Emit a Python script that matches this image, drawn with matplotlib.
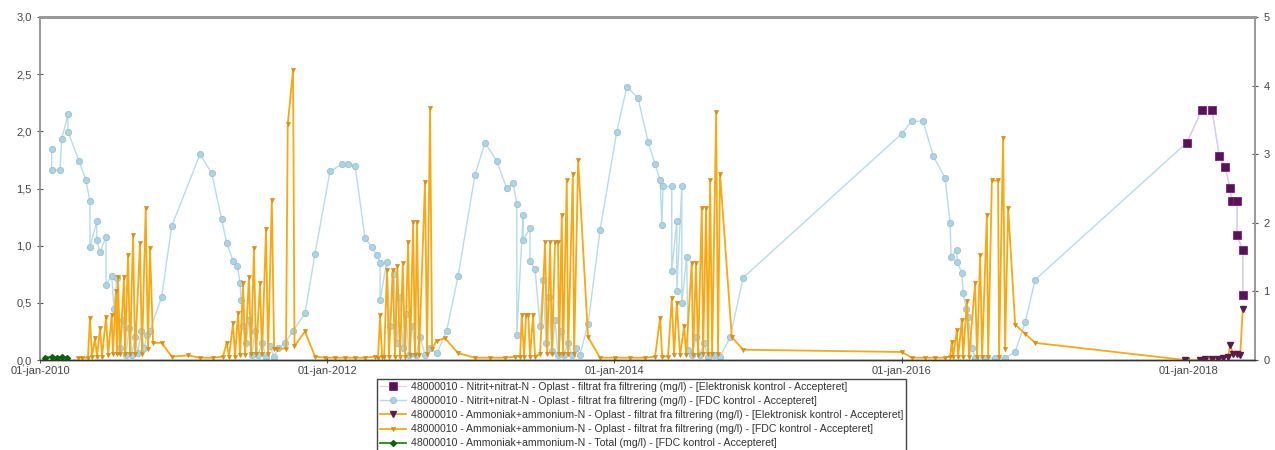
import matplotlib.pyplot as plt

plt.rcParams['font.family'] = ['Liberation Sans', 'DejaVu Sans']

# tick labels
x_ticks = [2010, 2012, 2014, 2016, 2018]
x_labels = ['01-jan-2010', '01-jan-2012', '01-jan-2014', '01-jan-2016', '01-jan-2018']
left_ticks = [0, 0.5, 1.0, 1.5, 2.0, 2.5, 3.0]
left_labels = ['0,0', '0,5', '1,0', '1,5', '2,0', '2,5', '3,0']
right_ticks = [0, 1, 2, 3, 4, 5]

labels = [
    '48000010 - Nitrit+nitrat-N - Oplast - filtrat fra filtrering (mg/l) - [Elektronisk kontrol - Accepteret]',
    '48000010 - Nitrit+nitrat-N - Oplast - filtrat fra filtrering (mg/l) - [FDC kontrol - Accepteret]',
    '48000010 - Ammoniak+ammonium-N - Oplast - filtrat fra filtrering (mg/l) - [Elektronisk kontrol - Accepteret]',
    '48000010 - Ammoniak+ammonium-N - Oplast - filtrat fra filtrering (mg/l) - [FDC kontrol - Accepteret]',
    '48000010 - Ammoniak+ammonium-N - Total (mg/l) - [FDC kontrol - Accepteret]',
]

# nitrit+nitrat, elektronisk kontrol (right axis)
no3_el_t = [2017.986, 2018.091, 2018.160, 2018.211, 2018.252, 2018.287, 2018.299,
            2018.334, 2018.336, 2018.375, 2018.375]
no3_el_v = [3.17, 3.65, 3.65, 2.98, 2.82, 2.50, 2.32, 2.32, 1.82, 1.60, 0.95]

# nitrit+nitrat, FDC kontrol (right axis)
no3_fdc_t = [2010.081, 2010.081, 2010.139, 2010.151, 2010.195, 2010.195, 2010.272, 2010.318,
             2010.348, 2010.348, 2010.395, 2010.395, 2010.418, 2010.460, 2010.460, 2010.499,
             2010.515, 2010.536, 2010.557, 2010.578, 2010.599, 2010.620, 2010.641, 2010.662,
             2010.682, 2010.703, 2010.724, 2010.745, 2010.766, 2010.847, 2010.917, 2011.114,
             2011.196, 2011.265, 2011.300, 2011.344, 2011.375, 2011.393, 2011.400, 2011.414,
             2011.435, 2011.455, 2011.476, 2011.497, 2011.518, 2011.546, 2011.574, 2011.602,
             2011.630, 2011.657, 2011.706, 2011.762, 2011.845, 2011.915, 2012.019, 2012.101,
             2012.145, 2012.194, 2012.263, 2012.310, 2012.345, 2012.368, 2012.368, 2012.414,
             2012.437, 2012.465, 2012.486, 2012.507, 2012.528, 2012.549, 2012.570, 2012.591,
             2012.618, 2012.646, 2012.681, 2012.716, 2012.763, 2012.832, 2012.911, 2013.029,
             2013.099, 2013.180, 2013.250, 2013.294, 2013.320, 2013.320, 2013.364, 2013.364,
             2013.412, 2013.412, 2013.447, 2013.482, 2013.503, 2013.524, 2013.545, 2013.565,
             2013.586, 2013.607, 2013.628, 2013.649, 2013.677, 2013.705, 2013.733, 2013.760,
             2013.816, 2013.900, 2014.016, 2014.086, 2014.164, 2014.234, 2014.283, 2014.318,
             2014.330, 2014.338, 2014.399, 2014.399, 2014.434, 2014.434, 2014.469, 2014.469,
             2014.503, 2014.512, 2014.540, 2014.568, 2014.596, 2014.624, 2014.652, 2014.694,
             2014.735, 2014.805, 2014.896, 2016.001, 2016.070, 2016.149, 2016.219, 2016.302,
             2016.337, 2016.344, 2016.384, 2016.386, 2016.419, 2016.428, 2016.449, 2016.463,
             2016.490, 2016.511, 2016.581, 2016.650, 2016.720, 2016.790, 2016.860, 2016.929,
             2017.986, 2018.091, 2018.160, 2018.211, 2018.252, 2018.287, 2018.299, 2018.334,
             2018.336, 2018.375, 2018.375]
no3_fdc_v = [3.07, 2.77, 2.77, 3.22, 3.58, 3.33, 2.90, 2.63,
             2.32, 1.65, 2.02, 1.75, 1.57, 1.80, 1.10, 1.23,
             0.75, 1.20, 0.17, 0.58, 0.07, 0.47, 0.08, 0.33,
             0.10, 0.42, 0.17, 0.37, 0.43, 0.92, 1.95, 3.00,
             2.72, 2.05, 1.70, 1.45, 1.37, 1.12, 0.87, 0.50,
             0.25, 0.58, 0.08, 0.42, 0.07, 0.25, 0.05, 0.20,
             0.05, 0.17, 0.25, 0.42, 0.68, 1.55, 2.75, 2.85,
             2.85, 2.83, 1.78, 1.65, 1.53, 1.42, 0.87, 1.43,
             0.50, 1.25, 0.25, 0.92, 0.17, 0.67, 0.08, 0.50,
             0.07, 0.33, 0.08, 0.17, 0.10, 0.43, 1.22, 2.70,
             3.17, 2.90, 2.50, 2.58, 2.28, 0.37, 2.12, 1.75,
             1.92, 1.45, 1.32, 0.50, 1.17, 0.25, 0.92, 0.13,
             0.58, 0.08, 0.42, 0.08, 0.25, 0.07, 0.17, 0.08,
             0.52, 1.90, 3.33, 3.98, 3.82, 3.18, 2.85, 2.62,
             1.97, 2.53, 2.53, 1.30, 2.03, 1.00, 2.53, 0.83,
             1.50, 0.15, 0.08, 0.33, 0.08, 0.25, 0.05, 0.07,
             0.05, 0.33, 1.20, 3.30, 3.48, 3.48, 2.98, 2.65,
             2.00, 1.50, 1.60, 1.43, 1.27, 0.97, 0.75, 0.63,
             0.17, 0.03, 0.03, 0.03, 0.03, 0.12, 0.55, 1.17,
             3.17, 3.65, 3.65, 2.98, 2.82, 2.50, 2.32, 2.32,
             1.82, 1.60, 0.95]

# ammoniak+ammonium, elektronisk kontrol (left axis)
nh4_el_t = [2017.974, 2018.078, 2018.113, 2018.162, 2018.203, 2018.238, 2018.273, 2018.287,
            2018.308, 2018.336, 2018.357, 2018.375]
nh4_el_v = [0.00, 0.00, 0.01, 0.01, 0.01, 0.02, 0.03, 0.13, 0.05, 0.05, 0.04, 0.45]

# ammoniak+ammonium, FDC kontrol (left axis)
nh4_fdc_t = [2010.265, 2010.292, 2010.334, 2010.348, 2010.362, 2010.383, 2010.397, 2010.418,
             2010.432, 2010.460, 2010.474, 2010.499, 2010.508, 2010.529, 2010.536, 2010.543,
             2010.557, 2010.585, 2010.592, 2010.613, 2010.627, 2010.648, 2010.662, 2010.696,
             2010.710, 2010.736, 2010.752, 2010.766, 2010.787, 2010.847, 2010.917, 2011.031,
             2011.114, 2011.205, 2011.274, 2011.300, 2011.316, 2011.344, 2011.358, 2011.379,
             2011.393, 2011.414, 2011.428, 2011.455, 2011.469, 2011.490, 2011.504, 2011.532,
             2011.546, 2011.574, 2011.588, 2011.614, 2011.630, 2011.648, 2011.713, 2011.725,
             2011.762, 2011.772, 2011.845, 2011.915, 2011.985, 2012.054, 2012.124, 2012.194,
             2012.263, 2012.333, 2012.354, 2012.368, 2012.382, 2012.396, 2012.416, 2012.430,
             2012.456, 2012.472, 2012.488, 2012.507, 2012.526, 2012.542, 2012.563, 2012.577,
             2012.598, 2012.611, 2012.625, 2012.639, 2012.681, 2012.695, 2012.716, 2012.730,
             2012.763, 2012.820, 2012.911, 2013.029, 2013.134, 2013.238, 2013.308, 2013.343,
             2013.354, 2013.371, 2013.384, 2013.400, 2013.412, 2013.433, 2013.447, 2013.482,
             2013.517, 2013.531, 2013.552, 2013.565, 2013.586, 2013.607, 2013.614, 2013.633,
             2013.642, 2013.668, 2013.677, 2013.710, 2013.719, 2013.747, 2013.816, 2013.900,
             2014.004, 2014.109, 2014.213, 2014.283, 2014.318, 2014.332, 2014.373, 2014.399,
             2014.415, 2014.434, 2014.457, 2014.485, 2014.499, 2014.538, 2014.547, 2014.568,
             2014.582, 2014.608, 2014.617, 2014.638, 2014.652, 2014.666, 2014.680, 2014.708,
             2014.721, 2014.735, 2014.817, 2014.896, 2016.001, 2016.070, 2016.163, 2016.233,
             2016.302, 2016.337, 2016.349, 2016.358, 2016.384, 2016.393, 2016.419, 2016.428,
             2016.454, 2016.469, 2016.511, 2016.525, 2016.546, 2016.560, 2016.593, 2016.602,
             2016.628, 2016.671, 2016.678, 2016.706, 2016.720, 2016.741, 2016.790, 2016.860,
             2016.929, 2017.974]
nh4_fdc_v = [0.02, 0.02, 0.02, 0.37, 0.03, 0.19, 0.03, 0.28,
             0.03, 0.38, 0.04, 0.39, 0.05, 0.60, 0.05, 0.73,
             0.05, 0.73, 0.05, 0.92, 0.05, 1.09, 0.05, 1.02,
             0.05, 1.33, 0.10, 0.98, 0.15, 0.15, 0.03, 0.04,
             0.02, 0.02, 0.03, 0.15, 0.03, 0.32, 0.03, 0.41,
             0.04, 0.67, 0.04, 0.73, 0.05, 0.98, 0.05, 0.67,
             0.05, 1.15, 0.05, 1.40, 0.10, 0.10, 0.10, 2.06,
             2.54, 0.12, 0.25, 0.03, 0.02, 0.02, 0.02, 0.02,
             0.02, 0.03, 0.02, 0.39, 0.03, 0.03, 0.79, 0.03,
             0.79, 0.03, 0.82, 0.03, 0.85, 0.03, 1.03, 0.04,
             1.21, 0.04, 1.21, 0.04, 1.56, 0.05, 2.20, 0.10,
             0.17, 0.19, 0.06, 0.02, 0.02, 0.02, 0.03, 0.03,
             0.39, 0.03, 0.39, 0.39, 0.03, 0.39, 0.03, 0.05,
             1.03, 0.05, 1.03, 0.05, 1.03, 1.03, 0.05, 1.27,
             0.05, 1.57, 0.05, 1.63, 0.05, 1.75, 0.20, 0.02,
             0.02, 0.02, 0.02, 0.03, 0.37, 0.03, 0.03, 0.54,
             0.04, 0.50, 0.04, 0.30, 0.04, 0.85, 0.04, 0.85,
             0.04, 1.33, 0.05, 1.33, 0.05, 1.57, 0.05, 2.17,
             0.05, 1.63, 0.20, 0.09, 0.07, 0.02, 0.02, 0.02,
             0.02, 0.03, 0.16, 0.03, 0.26, 0.03, 0.35, 0.03,
             0.52, 0.03, 0.67, 0.03, 0.92, 0.03, 1.27, 0.03,
             1.57, 1.57, 0.03, 1.94, 0.10, 1.33, 0.31, 0.23,
             0.15, 0.00]

# ammoniak+ammonium, total (left axis)
nh4_tot_t = [2010.035, 2010.084, 2010.118, 2010.153, 2010.188]
nh4_tot_v = [0.02, 0.03, 0.02, 0.03, 0.02]

fig = plt.figure(figsize=(12.75, 4.5), dpi=100)
ax = fig.add_axes([40 / 1275, 90 / 450, 1215 / 1275, 343 / 450])
ax2 = ax.twinx()
ax.set_zorder(ax2.get_zorder() + 1)
ax.patch.set_visible(False)

# right axis: nitrit+nitrat
l2, = ax2.plot(no3_fdc_t, no3_fdc_v, color='#b7dbe8', lw=1.0, marker='o', ms=4.5,
               mfc='#acd4e4', mec='#9dbfcc', mew=0.6)
l1, = ax2.plot(no3_el_t, no3_el_v, color='#e8c8ec', lw=0.8, marker='s', ms=5.5,
               mfc='#521652', mec='#8a1a8a', mew=0.6)

# left axis: ammoniak+ammonium
l4, = ax.plot(nh4_fdc_t, nh4_fdc_v, color='#f7a813', lw=1.3, marker='v', ms=3,
              mfc='#e09010', mec='#d08a10', mew=0.4)
l3, = ax.plot(nh4_el_t, nh4_el_v, color='#f7a813', lw=1.3, marker='v', ms=4.5,
              mfc='#5a1a4a', mec='#5a1a4a')
l5, = ax.plot(nh4_tot_t, nh4_tot_v, color='#1b8a1b', lw=1.3, marker='D', ms=3,
              mfc='#106010', mec='#106010')

ax.set_xlim(2010.0, 2018.46)
ax.set_ylim(0, 3)
ax2.set_ylim(0, 5)

ax.set_xticks(x_ticks)
ax.set_xticklabels(x_labels)
ax.set_yticks(left_ticks)
ax.set_yticklabels(left_labels)
ax2.set_yticks(right_ticks)

for a in (ax, ax2):
    a.tick_params(labelsize=8, labelcolor='#444444', color='#555555',
                  direction='inout', length=5, width=0.8)
    for side in ('left', 'right'):
        a.spines[side].set_color('#999999')
        a.spines[side].set_linewidth(1.2)
    a.spines['top'].set_color('#999999')
    a.spines['top'].set_linewidth(2.0)
    a.spines['bottom'].set_color('#333333')
    a.spines['bottom'].set_linewidth(1.0)
ax.tick_params(axis='x', pad=2)

fig.legend([l1, l2, l3, l4, l5], labels, loc='upper left',
           bbox_to_anchor=(377 / 1275, 1 - 379 / 450), bbox_transform=fig.transFigure,
           fontsize=7.6, frameon=True, fancybox=False, edgecolor='#444444',
           framealpha=1, handlelength=2.4, handletextpad=0.5, labelspacing=0.38,
           borderpad=0.3, borderaxespad=0, labelcolor='#333333')

fig.savefig('out.png', dpi=100)
